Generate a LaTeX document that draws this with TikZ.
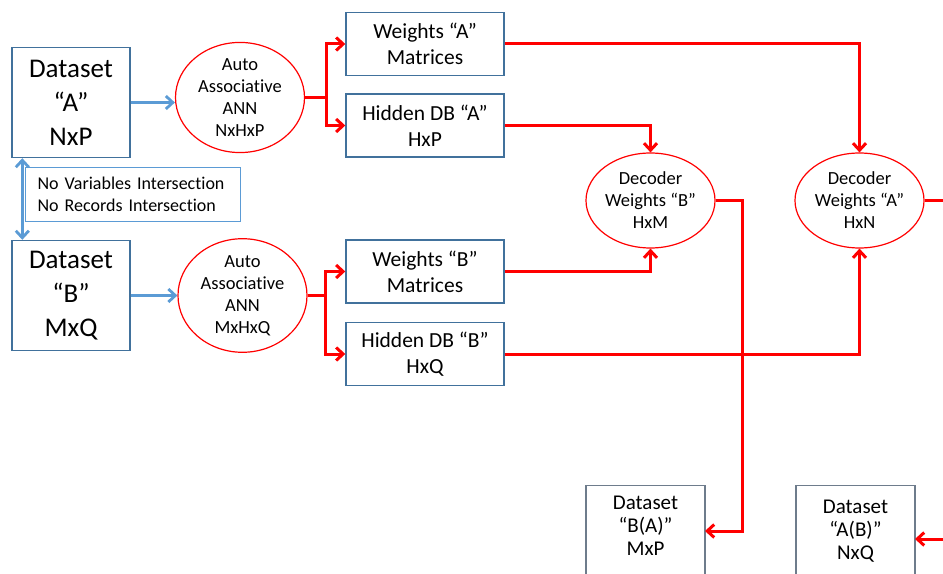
\documentclass[tikz,border=0pt]{standalone}
\usepackage{fontspec}
\setmainfont{Carlito}[Ligatures=NoCommon]
\usetikzlibrary{arrows.meta,shapes.geometric}
\definecolor{boxblue}{HTML}{41719C}
\definecolor{linkblue}{HTML}{5B9BD5}
\definecolor{framegray}{HTML}{6E7C8C}
\definecolor{flowred}{HTML}{FF0000}

\tikzset{
  databox/.style={draw=boxblue, line width=1.4bp, minimum width=118bp, minimum height=110bp,
    align=center, inner sep=0pt, font=\fontsize{27bp}{34bp}\selectfont},
  matbox/.style={draw=boxblue, line width=1.4bp, minimum width=158bp, minimum height=63bp,
    align=center, inner sep=0pt, font=\fontsize{21.5bp}{26bp}\selectfont},
  netoval/.style={ellipse, draw=flowred, line width=1.2bp, minimum width=129bp, minimum height=99bp,
    align=center, inner sep=0pt, font=\fontsize{18.5bp}{22bp}\selectfont},
  outframe/.style={draw=framegray, line width=1.4bp, minimum width=119bp, minimum height=130bp,
    inner sep=0pt, anchor=north},
  outtext/.style={align=center, inner sep=0pt, font=\fontsize{21bp}{23bp}\selectfont},
  bluelink/.style={draw=linkblue, line width=2.8bp, -{Straight Barb[length=7bp,width=13bp]}},
  redlink/.style={draw=flowred, line width=3bp, line join=miter},
  redarrow/.style={redlink, -{Straight Barb[length=7bp,width=13bp]}},
}

\begin{document}
\begin{tikzpicture}[x=1bp, y=-1bp]
\useasboundingbox (0,0) rectangle (943,574);
\clip (0,0) rectangle (943,574);

% input datasets
\node[databox] (da) at (71,102.5) {Dataset\\“A”\\NxP};
\node[databox] (db) at (71,295.5) {Dataset\\“B”\\MxQ};

% note between the two datasets
\node[draw=linkblue, line width=1.2bp, anchor=north west, text width=191bp, align=left,
  inner xsep=12bp, minimum height=54bp, font=\fontsize{18bp}{22bp}\selectfont]
  (note) at (25,167) {No Variables Intersection\\No Records Intersection};

% auto associative networks
\node[netoval] (aa) at (240,97.5) {Auto\\Associative\\ANN\\NxHxP};
\node[netoval, minimum height=101bp] (ab) at (242.5,295.5) {Auto\\Associative\\ANN\\MxHxQ};

% weight matrices and hidden databases
\node[matbox] (wa) at (425,44) {Weights “A”\\Matrices};
\node[matbox] (ha) at (425,125.5) {Hidden DB “A”\\HxP};
\node[matbox] (wb) at (425,271.5) {Weights “B”\\Matrices};
\node[matbox] (hb) at (425,354) {Hidden DB “B”\\HxQ};

% decoders
\node[netoval, minimum height=95bp] (decb) at (650.5,200.5) {Decoder\\Weights “B”\\HxM};
\node[netoval, minimum height=95bp] (deca) at (859.5,200.5) {Decoder\\Weights “A”\\HxN};

% output datasets
\node[outframe] (ba) at (645.5,485) {};
\node[outtext] (bat) at (645.5,526) {Dataset\\“B(A)”\\MxP};
\node[outframe] (ab2) at (855.5,485) {};
\node[outtext] (abt) at (855.5,531) {Dataset\\“A(B)”\\NxQ};
\coordinate (bain) at (705,531);
\coordinate (abin) at (915,539);

% blue links
\draw[bluelink] (da.east) -- (da.east -| aa.west);
\draw[bluelink] (db.east) -- (db.east -| ab.west);
\draw[bluelink, {Straight Barb[length=7bp,width=13bp]}-{Straight Barb[length=7bp,width=13bp]}]
  ([xshift=11bp]da.south west) -- ([xshift=11bp]db.north west);

% encoder outputs
\draw[redlink] (aa.east) -- ++(21,0) coordinate (ja);
\draw[redarrow] (ja) |- (wa.west);
\draw[redarrow] (ja) |- (ha.west);
\draw[redlink] (ab.east) -- ++(18,0) coordinate (jb);
\draw[redarrow] (jb) |- (wb.west);
\draw[redarrow] (jb) |- (hb.west);

% into the decoders
\draw[redarrow] (wa.east) -| (deca.north);
\draw[redarrow] (ha.east) -| (decb.north);
\draw[redarrow] (wb.east) -| (decb.south);
\draw[redarrow] (hb.east) -| (deca.south);

% decoder outputs
\draw[redarrow] (decb.east) -- ++(27,0) |- (bain);
\draw[redarrow] (deca.east) -- ++(40,0) |- (abin);
\end{tikzpicture}
\end{document}
